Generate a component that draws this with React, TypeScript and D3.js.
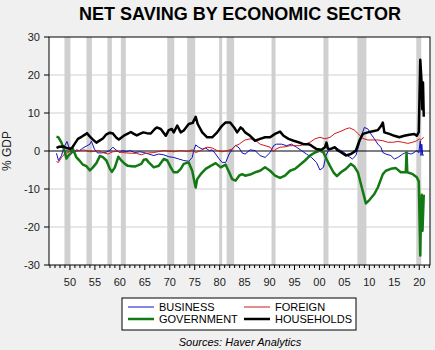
import * as d3 from "d3";

// recession shading, [start, end] in decimal years
const recessions: [number, number][] = [
  [1948.9, 1950.1], [1953.3, 1954.4], [1957.5, 1958.4], [1960.2, 1961.2],
  [1969.5, 1970.9], [1973.5, 1975.1], [1979.9, 1980.5], [1981.4, 1982.9],
  [1990.4, 1991.2], [2000.8, 2001.8], [2007.6, 2009.4], [2019.4, 2020.4],
];

const yTicks = [30, 20, 10, 0, -10, -20, -30];
const gridValues = [20, 10, -10, -20];

// % of GDP, [year, value]
const business: [number, number][] = [
  [1947.3, -0.6], [1947.7, -2.5], [1948.3, -1.2], [1948.8, 1.0], [1949.4, 2.5], [1949.8, 1.0],
  [1950.3, -0.3], [1950.7, -0.5], [1951.3, 0.3], [1951.9, 0.1], [1952.5, 0.7], [1953.3, 1.3],
  [1954.0, 1.8], [1954.3, 2.6], [1954.9, 0.5], [1955.5, -0.5], [1956.3, -0.5], [1957.3, -0.3],
  [1958.0, 0.2], [1958.6, 1.0], [1959.3, 0.2], [1960.0, -0.4], [1960.6, 0.1], [1961.3, -0.2],
  [1962.0, 0.1], [1963.0, -0.4], [1964.0, -0.2], [1964.8, -0.4], [1965.8, -0.8], [1966.8, -1.2],
  [1967.8, -0.8], [1968.8, -1.0], [1969.8, -1.5], [1970.8, -1.7], [1971.8, -2.1], [1972.8, -2.5],
  [1973.8, -2.7], [1974.5, -1.7], [1974.8, 0.1], [1975.2, 1.6], [1975.8, 1.0], [1976.5, 0.5],
  [1977.2, 0.8], [1977.9, 0.1], [1978.5, 0.3], [1979.2, -0.8], [1979.9, -2.1], [1980.5, -3.0],
  [1981.2, -3.0], [1981.9, -0.8], [1982.5, 0.5], [1983.2, 1.5], [1983.9, 0.8], [1984.5, -0.5],
  [1985.1, -0.8], [1986.1, 0.3], [1987.1, 0.1], [1988.1, -1.2], [1989.1, -1.7], [1990.1, -0.4],
  [1990.8, 1.4], [1991.4, 1.8], [1992.4, 1.8], [1993.4, 1.4], [1994.4, 1.8], [1995.4, 1.0],
  [1996.4, 0.1], [1997.4, -0.8], [1998.4, -1.7], [1999.4, -3.0], [2000.1, -5.0], [2000.8, -4.3],
  [2001.3, -1.2], [2001.8, 0.1], [2002.4, 0.5], [2003.4, 0.8], [2004.3, 0.1], [2005.0, -0.4],
  [2005.6, -1.2], [2006.6, -2.1], [2007.3, -1.2], [2007.8, 1.0], [2008.3, 3.6], [2009.0, 6.2],
  [2009.7, 5.8], [2010.3, 4.5], [2011.0, 3.2], [2011.7, 1.8], [2012.3, 1.0], [2012.7, -0.4],
  [2013.3, -0.8], [2014.3, -1.2], [2015.0, -2.1], [2015.7, -1.7], [2016.7, -0.8], [2017.3, -0.4],
  [2018.3, -0.8], [2019.0, -0.4], [2019.5, 0.1], [2019.9, -0.5], [2020.2, 2.7], [2020.35, -1.2],
  [2020.5, 1.8], [2020.7, -1.2], [2020.9, -1.0],
];

const foreign: [number, number][] = [
  [1947.3, -2.8], [1947.7, -3.0], [1948.3, -1.7], [1948.9, -0.8], [1949.6, -0.4], [1950.3, 0.1],
  [1950.9, -0.2], [1951.9, 0.1], [1952.9, 0.3], [1954.0, -0.2], [1954.9, -0.1], [1955.6, 0.1],
  [1956.6, -0.4], [1957.6, -0.8], [1958.6, -0.2], [1959.6, -0.1], [1960.3, -0.4], [1961.3, -0.5],
  [1962.3, -0.6], [1963.3, -0.6], [1964.3, -1.0], [1965.2, -0.6], [1966.8, -0.4], [1968.8, 0.1],
  [1970.8, -0.2], [1972.2, 0.1], [1973.5, -0.1], [1974.5, 0.3], [1975.2, -0.4], [1976.2, 0.1],
  [1977.5, 1.0], [1978.5, 0.8], [1979.5, 0.1], [1980.5, -0.2], [1981.5, 0.1], [1982.5, 0.5],
  [1983.2, 1.4], [1983.9, 1.8], [1984.5, 2.4], [1985.1, 2.9], [1986.1, 3.2], [1987.1, 2.9],
  [1988.1, 1.8], [1989.1, 1.4], [1990.1, 1.0], [1990.8, -0.1], [1991.3, 0.5], [1992.1, 1.0],
  [1993.1, 1.1], [1994.1, 1.4], [1995.1, 1.4], [1996.1, 1.4], [1997.1, 1.8], [1998.1, 2.3],
  [1999.1, 3.2], [2000.1, 3.6], [2001.1, 3.2], [2002.1, 3.6], [2003.1, 4.6], [2004.3, 5.2],
  [2005.3, 5.8], [2006.0, 6.1], [2007.0, 5.5], [2007.7, 4.6], [2008.7, 3.3], [2009.7, 2.9],
  [2010.7, 2.9], [2011.7, 2.9], [2012.7, 2.7], [2013.7, 2.3], [2014.7, 2.3], [2015.7, 2.5],
  [2016.7, 2.3], [2017.7, 2.0], [2018.7, 2.3], [2019.5, 2.7], [2020.0, 3.2], [2020.3, 2.9],
  [2020.9, 3.6],
];

const government: [number, number][] = [
  [1947.3, 3.8], [1947.7, 3.6], [1948.3, 2.2], [1948.9, 0.1], [1949.3, -2.0], [1949.7, -1.2],
  [1950.3, -0.4], [1950.6, 0.5], [1951.3, -1.7], [1951.9, -2.5], [1952.6, -3.6], [1953.3, -4.0],
  [1954.0, -5.1], [1954.6, -4.3], [1955.3, -3.2], [1956.0, -1.3], [1956.6, -1.6], [1957.3, -2.5],
  [1958.0, -4.7], [1958.4, -5.5], [1959.0, -4.3], [1959.7, -1.5], [1960.3, -2.5], [1961.0, -3.4],
  [1961.6, -3.9], [1962.3, -4.0], [1963.0, -4.1], [1963.6, -3.8], [1964.3, -3.4], [1964.8, -2.3],
  [1965.3, -2.2], [1965.8, -3.0], [1966.8, -4.3], [1967.8, -3.9], [1968.8, -2.1], [1969.5, -2.5],
  [1970.2, -4.3], [1970.8, -5.6], [1971.5, -5.6], [1972.2, -4.7], [1972.8, -3.4], [1973.8, -3.0],
  [1974.5, -5.2], [1975.0, -8.5], [1975.2, -9.6], [1975.5, -7.4], [1976.2, -6.1], [1977.2, -4.7],
  [1978.2, -3.9], [1979.2, -3.2], [1980.2, -4.3], [1981.2, -3.6], [1981.9, -5.6], [1982.5, -7.4],
  [1983.2, -7.8], [1983.9, -6.5], [1984.5, -6.1], [1985.1, -6.5], [1986.1, -6.2], [1987.1, -5.6],
  [1988.1, -5.2], [1989.1, -4.3], [1990.1, -5.2], [1991.1, -6.5], [1992.1, -7.1], [1993.1, -6.5],
  [1994.1, -5.2], [1995.1, -4.7], [1996.1, -3.6], [1997.1, -2.5], [1998.1, -1.2], [1999.1, -0.4],
  [2000.1, 0.1], [2000.8, -0.4], [2001.4, -2.1], [2002.1, -3.9], [2002.8, -5.6], [2003.5, -6.6],
  [2004.3, -5.6], [2005.3, -4.7], [2006.3, -3.4], [2007.0, -4.1], [2007.7, -5.6], [2008.3, -8.7],
  [2009.0, -12.2], [2009.3, -13.8], [2010.0, -12.9], [2011.0, -11.3], [2011.7, -9.6], [2012.7, -6.1],
  [2013.3, -5.2], [2014.3, -4.7], [2015.3, -4.5], [2016.3, -5.6], [2017.3, -5.6], [2017.45, -0.4],
  [2017.6, -5.6], [2018.7, -6.1], [2019.5, -6.9], [2019.9, -8.0], [2020.2, -27.5], [2020.35, -16.0],
  [2020.5, -11.5], [2020.65, -21.0], [2020.9, -11.5],
];

const households: [number, number][] = [
  [1947.3, 0.8], [1947.8, 1.1], [1948.6, 1.2], [1949.3, 0.8], [1950.0, 0.6], [1950.4, 0.8],
  [1951.0, 2.0], [1951.6, 3.2], [1952.4, 3.8], [1953.0, 4.3], [1953.4, 4.7], [1954.0, 3.8],
  [1954.6, 3.0], [1955.3, 2.2], [1956.0, 2.8], [1956.6, 3.3], [1957.3, 4.4], [1958.0, 4.8],
  [1958.6, 4.6], [1959.3, 3.5], [1959.8, 3.0], [1960.4, 3.6], [1961.0, 4.2], [1961.6, 4.6],
  [1962.2, 5.0], [1962.8, 4.5], [1963.4, 4.1], [1964.0, 4.5], [1964.7, 4.9], [1965.4, 4.7],
  [1966.2, 4.6], [1967.0, 5.8], [1967.4, 6.2], [1968.2, 5.8], [1969.2, 4.0], [1969.8, 5.5],
  [1970.4, 5.8], [1970.8, 4.9], [1971.5, 6.7], [1972.2, 4.9], [1972.8, 5.4], [1973.8, 7.1],
  [1974.6, 7.4], [1975.2, 9.0], [1975.6, 7.1], [1976.5, 4.9], [1977.5, 3.6], [1978.5, 3.6],
  [1979.5, 4.9], [1980.2, 6.2], [1980.6, 6.8], [1981.2, 7.5], [1982.1, 7.5], [1982.9, 6.2],
  [1983.5, 4.9], [1984.2, 6.2], [1984.6, 5.8], [1985.1, 4.9], [1986.1, 4.0], [1987.1, 2.7],
  [1988.1, 3.2], [1989.1, 3.6], [1990.1, 3.6], [1991.1, 4.5], [1992.1, 5.1], [1992.8, 4.0],
  [1993.8, 3.2], [1994.8, 2.7], [1995.8, 2.3], [1996.8, 1.8], [1997.8, 1.8], [1998.4, 1.4],
  [1999.4, 0.5], [2000.4, 0.3], [2001.1, 1.0], [2001.4, 2.2], [2001.7, 0.6], [2002.1, 0.5],
  [2003.1, 1.0], [2003.6, 0.2], [2004.3, -0.3], [2005.3, -1.2], [2006.3, -0.8], [2007.3, 0.1],
  [2008.0, 2.7], [2008.7, 4.5], [2009.7, 4.9], [2010.7, 5.2], [2011.7, 5.5], [2012.3, 6.5],
  [2012.7, 7.5], [2013.0, 4.9], [2014.0, 4.5], [2015.0, 4.0], [2016.0, 3.6], [2017.0, 4.0],
  [2018.0, 4.3], [2019.0, 4.5], [2019.5, 4.0], [2019.9, 5.0], [2020.2, 24.0], [2020.45, 18.5],
  [2020.6, 11.0], [2020.75, 18.0], [2020.9, 9.0],
];

const series = [
  { name: "BUSINESS", data: business, color: "#1010c0", width: 1 },
  { name: "FOREIGN", data: foreign, color: "#d01818", width: 1 },
  { name: "GOVERNMENT", data: government, color: "#137a13", width: 2.5 },
  { name: "HOUSEHOLDS", data: households, color: "#000000", width: 2.5 },
];

export default function App() {
  const W = 435;
  const H = 350;
  const left = 49, right = 430, top = 37, bottom = 265;

  const x = d3.scaleLinear().domain([1945.8, 2022.15]).range([left, right]);
  const y = d3.scaleLinear().domain([-30, 30]).range([bottom, top]);

  const line = d3
    .line<[number, number]>()
    .x((d) => x(d[0]))
    .y((d) => y(d[1]));

  const years = d3.range(1946, 2023);
  const font = "Arial, 'Liberation Sans', sans-serif";

  // legend layout
  const legendRows = [
    [series[0], series[1]],
    [series[2], series[3]],
  ];

  return (
    <svg
      width={W}
      height={H}
      style={{ position: "absolute", left: 0, top: 0, fontFamily: font }}
    >
      <rect width={W} height={H} fill="#f0f0f0" />

      <text x={240} y={20} textAnchor="middle" fontSize={18} fontWeight="bold" fill="#000">
        NET SAVING BY ECONOMIC SECTOR
      </text>

      <rect x={left} y={top} width={right - left} height={bottom - top} fill="#fff" />

      {gridValues.map((v) => (
        <line key={v} x1={left} x2={right} y1={y(v)} y2={y(v)} stroke="#cfcfcf" strokeWidth={1} />
      ))}

      {recessions.map(([a, b], i) => (
        <rect key={i} x={x(a)} y={top} width={x(b) - x(a)} height={bottom - top} fill="#d0d0d0" />
      ))}

      <line x1={left} x2={right} y1={y(0)} y2={y(0)} stroke="#000" strokeWidth={1} />

      {series.map((s) => (
        <path
          key={s.name}
          d={line(s.data) ?? ""}
          fill="none"
          stroke={s.color}
          strokeWidth={s.width}
          strokeLinejoin="round"
        />
      ))}

      <rect x={left} y={top} width={right - left} height={bottom - top} fill="none" stroke="#000" strokeWidth={1} />

      {/* y axis */}
      {yTicks.map((t) => (
        <g key={t}>
          <line x1={left - 5} x2={left} y1={y(t)} y2={y(t)} stroke="#000" />
          <text x={40} y={y(t) + 4} textAnchor="end" fontSize={11} fill="#222">
            {t}
          </text>
        </g>
      ))}
      <text
        transform={`translate(11,${y(0)}) rotate(-90)`}
        textAnchor="middle"
        fontSize={12}
        fill="#222"
      >
        % GDP
      </text>

      {/* x axis */}
      {years.map((yr) => {
        const major = yr % 5 === 0;
        return (
          <g key={yr}>
            <line x1={x(yr)} x2={x(yr)} y1={bottom} y2={bottom + (major ? 5 : 3)} stroke="#000" />
            {major && (
              <text x={x(yr)} y={bottom + 21} textAnchor="middle" fontSize={11} fill="#222">
                {String(yr % 100).padStart(2, "0")}
              </text>
            )}
          </g>
        );
      })}

      {/* legend */}
      <rect x={122} y={298} width={234} height={32} fill="#fff" stroke="#000" strokeWidth={1} />
      {legendRows.map((row, ri) =>
        row.map((s, ci) => {
          const ly = 307 + ri * 12;
          const lx = ci === 0 ? 128 : 244;
          return (
            <g key={s.name}>
              <line x1={lx} x2={lx + 26} y1={ly} y2={ly} stroke={s.color} strokeWidth={s.width} />
              <text x={lx + 31} y={ly + 4} fontSize={11} fill="#000">
                {s.name}
              </text>
            </g>
          );
        })
      )}

      <text x={240} y={346} textAnchor="middle" fontSize={11} fontStyle="italic" fill="#000">
        Sources:  Haver Analytics
      </text>
    </svg>
  );
}
